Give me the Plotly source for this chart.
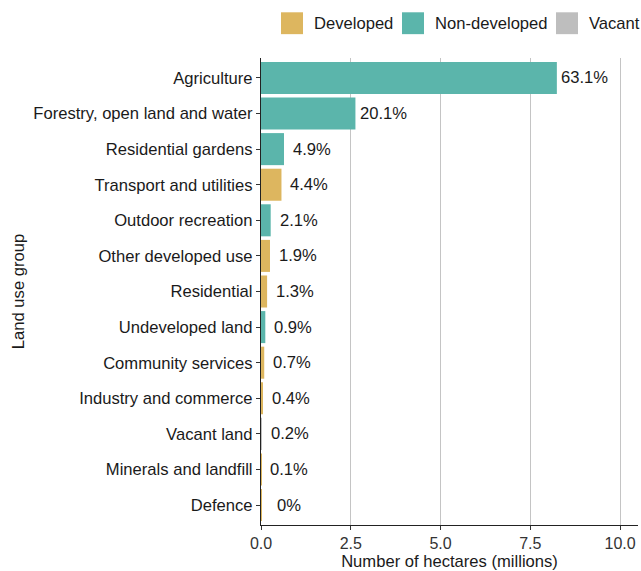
import plotly.graph_objects as go

categories = ["Agriculture", "Forestry, open land and water", "Residential gardens",
              "Transport and utilities", "Outdoor recreation", "Other developed use",
              "Residential", "Undeveloped land", "Community services",
              "Industry and commerce", "Vacant land", "Minerals and landfill", "Defence"]
hectares_m = [8.24, 2.63, 0.64, 0.57, 0.27, 0.25, 0.17, 0.12, 0.09, 0.05, 0.026, 0.013, 0.004]
groups = ["Non-developed", "Non-developed", "Non-developed", "Developed", "Non-developed",
          "Developed", "Developed", "Non-developed", "Developed", "Developed",
          "Vacant", "Developed", "Developed"]
pct_labels = ["63.1%", "20.1%", "4.9%", "4.4%", "2.1%", "1.9%", "1.3%", "0.9%",
              "0.7%", "0.4%", "0.2%", "0.1%", "0%"]
group_order = ["Developed", "Non-developed", "Vacant"]
colors = {"Developed": "#DDB65F", "Non-developed": "#5BB5AB", "Vacant": "#BEBEBE"}
x_ticks = [0, 2.5, 5, 7.5, 10]

FONT = "Liberation Sans, Arial, sans-serif"
FS = 16.6

W, H = 641, 571
ML, MR, MT, MB = 261, 3, 58, 43
PW, PH = W - ML - MR, H - MT - MB


def px_x(p):
    return (p - ML) / PW


def px_y(p):
    return (H - MB - p) / PH


fig = go.Figure()
for g in group_order:
    ys = [c for c, gg in zip(categories, groups) if gg == g]
    xs = [v for v, gg in zip(hectares_m, groups) if gg == g]
    fig.add_trace(go.Bar(
        y=ys, x=xs, orientation="h", name=g, width=0.9,
        marker=dict(color=colors[g], line=dict(width=0)),
        hoverinfo="skip", showlegend=False,
    ))

for c, v, t in zip(categories, hectares_m, pct_labels):
    fig.add_annotation(x=v + 0.78, y=c, text=t, showarrow=False,
                       xanchor="center", yanchor="middle",
                       font=dict(size=FS, color="#1a1a1a", family=FONT))

# legend (keys drawn in the top margin)
key_left = [281, 402, 556]
for g, kx in zip(group_order, key_left):
    fig.add_shape(type="rect", xref="paper", yref="paper",
                  x0=px_x(kx), x1=px_x(kx + 22), y0=px_y(34), y1=px_y(12),
                  fillcolor=colors[g], line=dict(width=0))
    fig.add_annotation(xref="paper", yref="paper", x=px_x(kx + 31), y=px_y(23),
                       text=g, showarrow=False, xanchor="left", yanchor="middle",
                       font=dict(size=FS, color="#1a1a1a", family=FONT))

fig.update_layout(
    width=W, height=H,
    margin=dict(l=ML, r=MR, t=MT, b=MB, pad=0),
    barmode="overlay",
    plot_bgcolor="white", paper_bgcolor="white",
    font=dict(family=FONT, size=FS, color="#1a1a1a"),
    showlegend=False,
    xaxis=dict(range=[0, 10.5], tickvals=x_ticks,
               ticktext=[f"{v:.1f}" for v in x_ticks],
               showgrid=True, gridcolor="#C4C4C4", gridwidth=1.4,
               showline=True, linecolor="#222222", linewidth=1.3,
               ticks="outside", ticklen=4, tickcolor="#333333",
               zeroline=False,
               title=dict(text="Number of hectares (millions)", standoff=4,
                          font=dict(size=FS, color="#1a1a1a")),
               tickfont=dict(size=16, color="#333333")),
    yaxis=dict(categoryorder="array", categoryarray=categories,
               range=[12.56, -0.56],
               showgrid=False,
               showline=True, linecolor="#222222", linewidth=1.3,
               ticks="outside", ticklen=4, tickcolor="#333333",
               title=dict(text="Land use group", standoff=4,
                          font=dict(size=FS, color="#1a1a1a")),
               tickfont=dict(size=FS, color="#1a1a1a")),
)

fig.write_html("out.html", config={"displayModeBar": False},
               post_script="document.body.style.margin='0';")
